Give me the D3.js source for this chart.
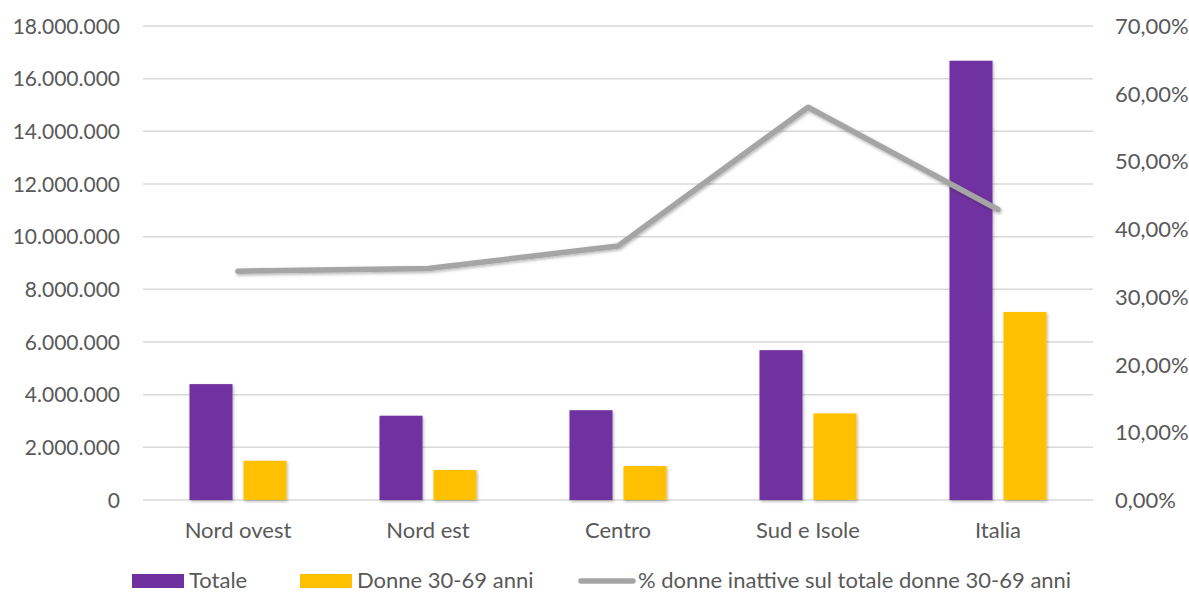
<!DOCTYPE html>
<html>
<head>
<meta charset="utf-8">
<script src="https://cdn.jsdelivr.net/npm/d3@7"></script>
<style>
  body { margin: 0; background: #fff; }
  text { font-family: Lato, "Open Sans", sans-serif; fill: #595959; }
</style>
</head>
<body>
<script>
// dati
var categorie = ["Nord ovest", "Nord est", "Centro", "Sud e Isole", "Italia"];
var totale = [4400000, 3200000, 3410000, 5690000, 16680000];
var donne = [1490000, 1140000, 1290000, 3290000, 7140000];
var percInattive = [0.338, 0.342, 0.375, 0.580, 0.429];
var tickSinistra = [0, 2000000, 4000000, 6000000, 8000000, 10000000, 12000000, 14000000, 16000000, 18000000];
var tickDestra = [0, 0.1, 0.2, 0.3, 0.4, 0.5, 0.6, 0.7];
var legenda = ["Totale", "Donne 30-69 anni", "% donne inattive sul totale donne 30-69 anni"];

var W = 1189, H = 593;
var m = { left: 143, right: 96, top: 26, bottom: 93 };

var svg = d3.select("body").append("svg")
  .attr("width", W)
  .attr("height", H);

var defs = svg.append("defs");
var f = defs.append("filter").attr("id", "ombra")
  .attr("x", "-20%").attr("y", "-20%").attr("width", "140%").attr("height", "140%");
f.append("feDropShadow").attr("dx", 1).attr("dy", 1.5).attr("stdDeviation", 1.5)
  .attr("flood-color", "#000").attr("flood-opacity", 0.3);

var x = d3.scaleBand().domain(categorie).range([m.left, W - m.right]);
var y = d3.scaleLinear().domain([0, 18000000]).range([H - m.bottom, m.top]);
var y2 = d3.scaleLinear().domain([0, 0.7]).range([H - m.bottom, m.top]);

var fmtNum = function(d) { return d3.format(",")(d).replace(/,/g, "."); };
var fmtPerc = function(d) { return (d * 100).toFixed(2).replace(".", ",") + "%"; };

// griglia
svg.append("g").selectAll("line").data(tickSinistra).enter().append("line")
  .attr("x1", m.left).attr("x2", W - m.right)
  .attr("y1", function(d) { return y(d); })
  .attr("y2", function(d) { return y(d); })
  .attr("stroke", "#d9d9d9").attr("stroke-width", 1.5);

// asse sinistro
var assL = svg.append("g").attr("transform", "translate(" + (m.left - 23) + ",0)")
  .call(d3.axisLeft(y).tickValues(tickSinistra).tickFormat(fmtNum).tickSize(0).tickPadding(0));
assL.select(".domain").remove();
assL.selectAll("text").attr("font-size", 21).attr("dy", "0.34em");

// asse destro
var assR = svg.append("g").attr("transform", "translate(" + (W - m.right + 22) + ",0)")
  .call(d3.axisRight(y2).tickValues(tickDestra).tickFormat(fmtPerc).tickSize(0).tickPadding(0));
assR.select(".domain").remove();
assR.selectAll("text").attr("font-size", 22).attr("dy", "0.34em");

// asse categorie
var assX = svg.append("g").attr("transform", "translate(0,538)")
  .call(d3.axisBottom(x).tickSize(0).tickPadding(0));
assX.select(".domain").remove();
assX.selectAll("text").attr("font-size", 22).attr("dy", 0);

// barre
var bw = 43, gap = 11;
var gruppi = svg.append("g").attr("filter", "url(#ombra)");
gruppi.selectAll(".tot").data(totale).enter().append("rect")
  .attr("x", function(d, i) { return x(categorie[i]) + x.bandwidth() / 2 - bw - gap / 2; })
  .attr("y", function(d) { return y(d); })
  .attr("width", bw)
  .attr("height", function(d) { return y(0) - y(d); })
  .attr("fill", "#7030a0");
gruppi.selectAll(".don").data(donne).enter().append("rect")
  .attr("x", function(d, i) { return x(categorie[i]) + x.bandwidth() / 2 + gap / 2; })
  .attr("y", function(d) { return y(d); })
  .attr("width", bw)
  .attr("height", function(d) { return y(0) - y(d); })
  .attr("fill", "#ffc000");

// linea percentuale
var linea = d3.line()
  .x(function(d, i) { return x(categorie[i]) + x.bandwidth() / 2; })
  .y(function(d) { return y2(d); });
svg.append("path").datum(percInattive)
  .attr("d", linea)
  .attr("fill", "none")
  .attr("stroke", "#a5a5a5")
  .attr("stroke-width", 5.5)
  .attr("stroke-linecap", "round")
  .attr("stroke-linejoin", "round")
  .attr("filter", "url(#ombra)");

// legenda
var ly = 588;
var leg = svg.append("g");
leg.append("rect").attr("x", 132).attr("y", ly - 14).attr("width", 52).attr("height", 14).attr("fill", "#7030a0");
leg.append("text").attr("x", 189).attr("y", ly).attr("font-size", 22).text(legenda[0]);
leg.append("rect").attr("x", 300).attr("y", ly - 14).attr("width", 52).attr("height", 14).attr("fill", "#ffc000");
leg.append("text").attr("x", 357).attr("y", ly).attr("font-size", 22).text(legenda[1]);
leg.append("line").attr("x1", 581).attr("x2", 633).attr("y1", ly - 7).attr("y2", ly - 7)
  .attr("stroke", "#a5a5a5").attr("stroke-width", 5.5).attr("stroke-linecap", "round");
leg.append("text").attr("x", 638).attr("y", ly).attr("font-size", 22).text(legenda[2]);
</script>
</body>
</html>
